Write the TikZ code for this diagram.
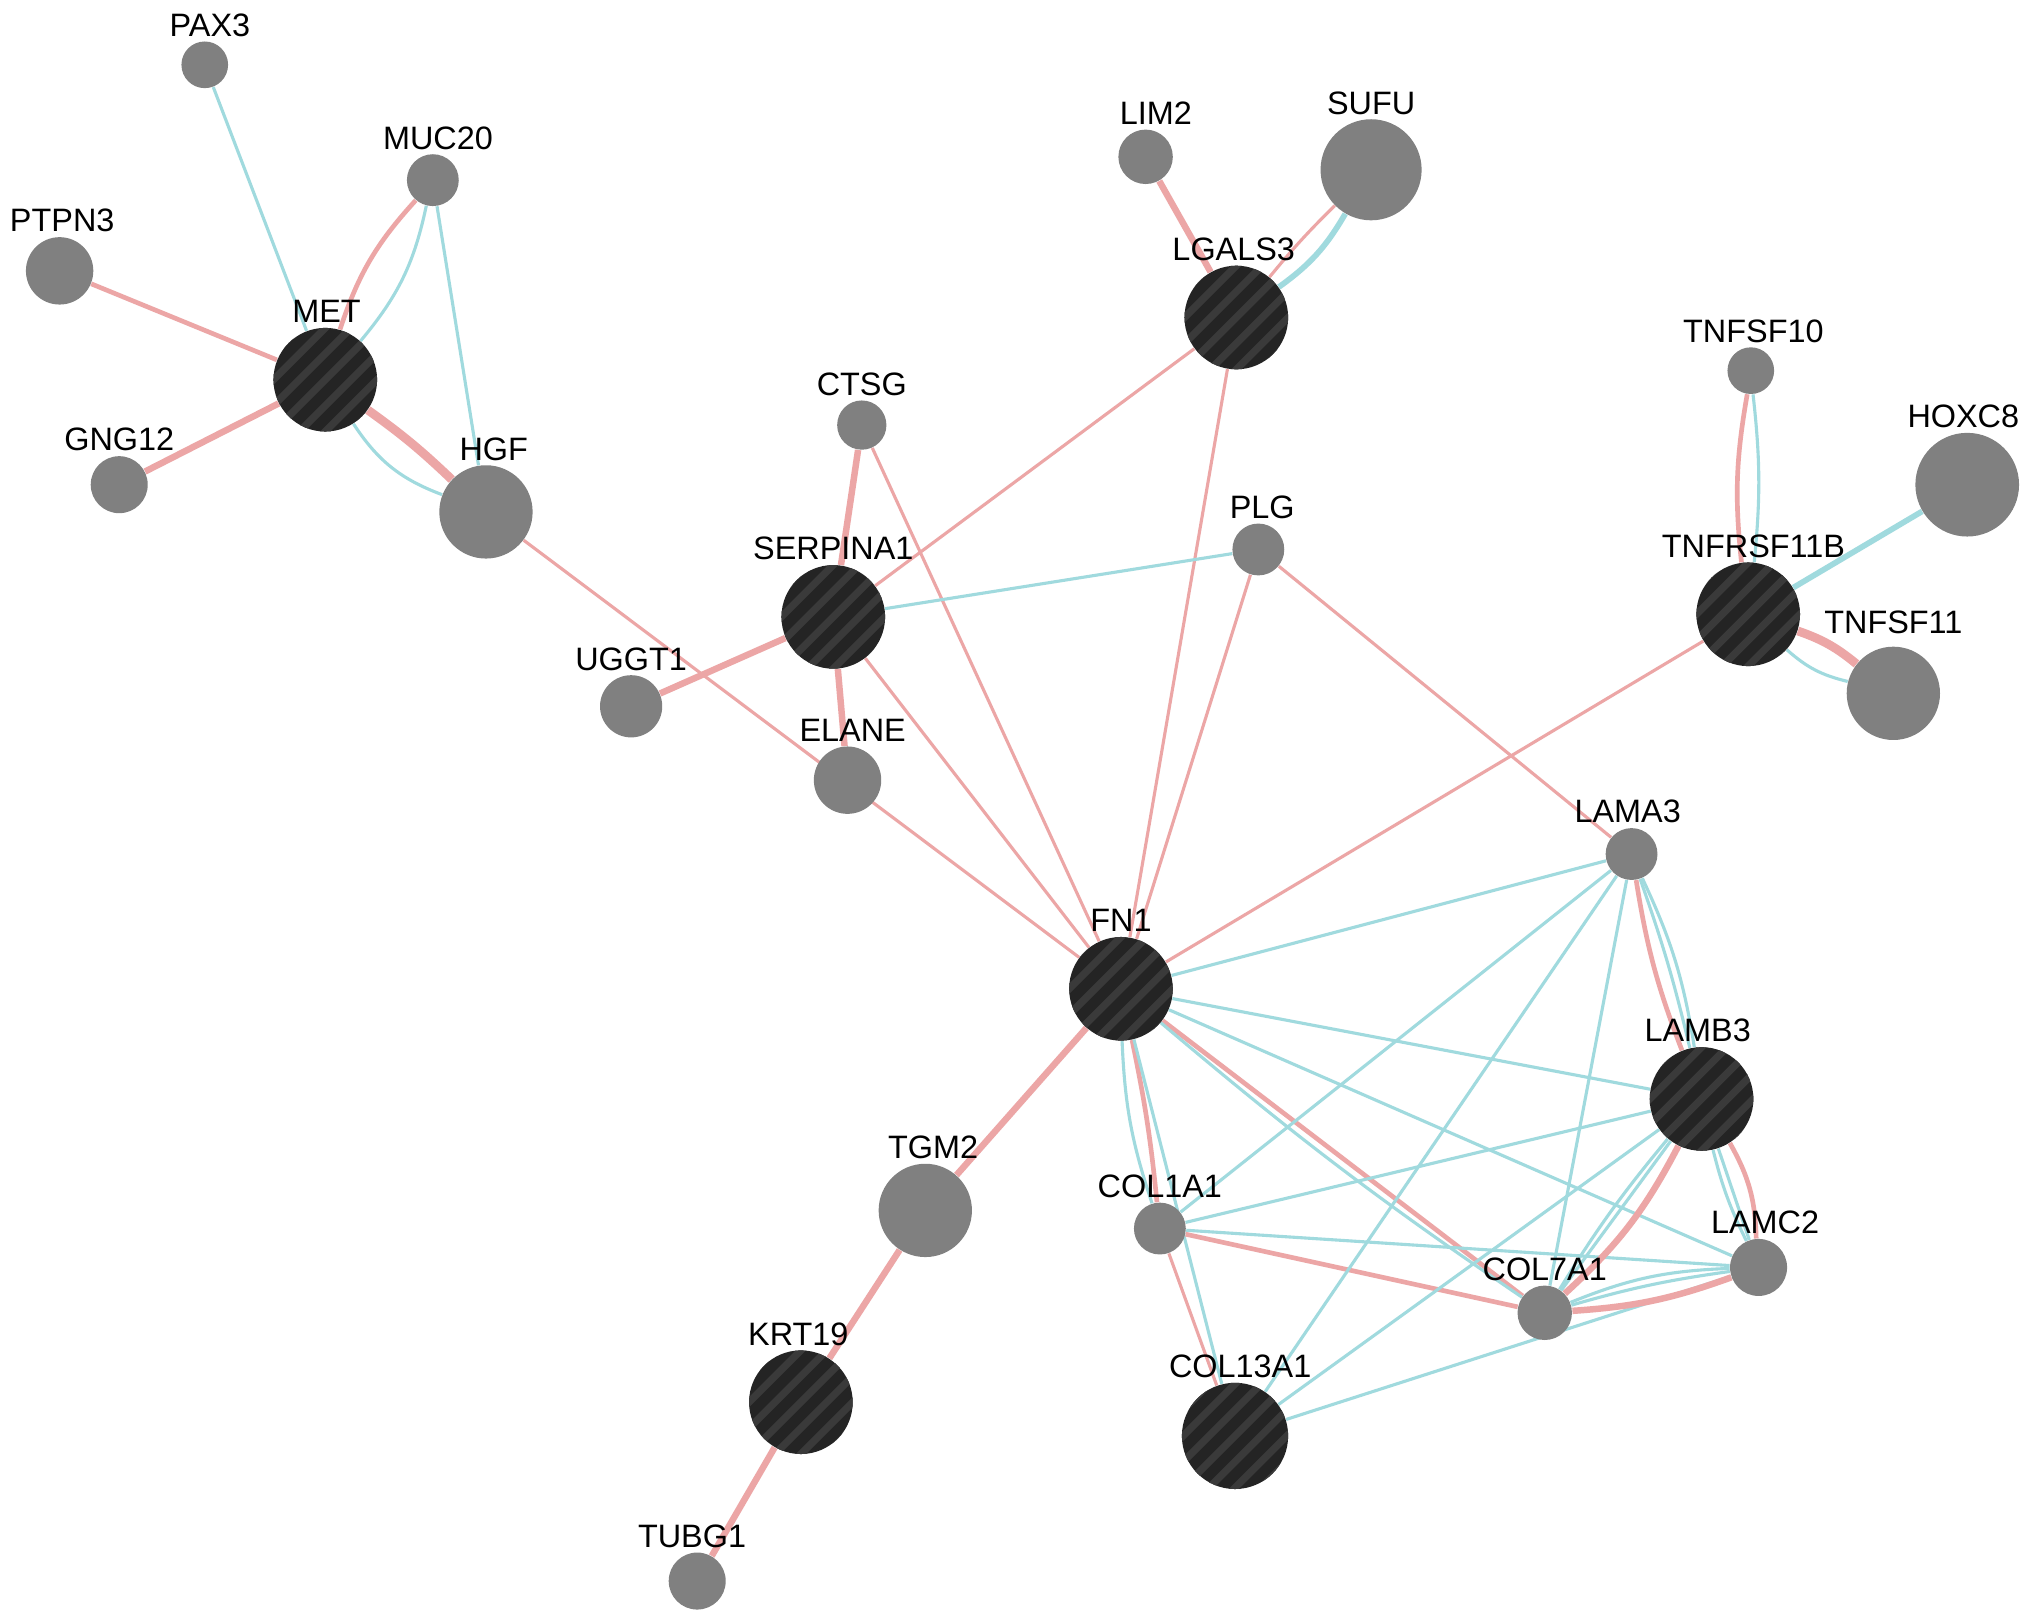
\documentclass[tikz,border=0pt]{standalone}
\usepackage{fontspec}
\setmainfont{Liberation Sans}
\usetikzlibrary{calc}
\definecolor{pinkc}{RGB}{236,166,166}
\definecolor{bluec}{RGB}{160,218,222}
\definecolor{grayn}{RGB}{128,128,128}
\definecolor{darkn}{RGB}{36,36,36}
\definecolor{stripec}{RGB}{58,58,58}
\pgfdeclarelayer{bg}
\pgfsetlayers{bg,main}
\tikzset{
  graynode/.style={circle, fill=grayn, inner sep=0pt},
  darknode/.style={circle, fill=darkn, inner sep=0pt},
  stripe/.style={draw=stripec, line width=2.8pt},
  lbl/.style={font=\fontsize{12.5}{14}\selectfont, text=black, inner sep=0pt},
  pk/.style={draw=pinkc, line width=1.2pt},
  pkM/.style={draw=pinkc, line width=1.8pt},
  pkT/.style={draw=pinkc, line width=2.5pt},
  pkX/.style={draw=pinkc, line width=3.4pt},
  bl/.style={draw=bluec, line width=1.2pt},
  blT/.style={draw=bluec, line width=2.2pt},
}
% name, x, y, radius, label, label offset
\newcommand\gnode[6]{%
  \node[graynode, minimum size=#4 pt] (#1) at (#2,#3) {};
  \node[lbl, anchor=base] (#1-l) at ($(#2,#3)+(0,-#4-4)+(#6)$) {#5};
}
\newcommand\dnode[6]{%
  \node[darknode, minimum size=#4 pt] (#1) at (#2,#3) {};
  \begin{scope}
    \clip (#2,#3) circle (#4);
    \foreach \k in {-5,...,5} \draw[stripe] ($(#2,#3)+(\k*20-70,70)$) -- ++(140,-140);
  \end{scope}
  \node[lbl, anchor=base] (#1-l) at ($(#2,#3)+(0,-#4-4)+(#6)$) {#5};
}
\begin{document}
\begin{tikzpicture}[x=0.5pt, y=-0.5pt]
\useasboundingbox (0,0) rectangle (1568,1244);
% nodes
\gnode{PAX3}{158}{50}{18}{PAX3}{4,0}
\gnode{MUC20}{334}{139}{20}{MUC20}{4,0}
\gnode{PTPN3}{46}{209}{26}{PTPN3}{2,0}
\dnode{MET}{251}{293}{40}{MET}{1,0}
\gnode{GNG12}{92}{374}{22}{GNG12}{0,0}
\gnode{HGF}{375}{395}{36}{HGF}{6,0}
\gnode{LIM2}{884}{121}{21}{LIM2}{8,0}
\gnode{SUFU}{1058}{131}{39}{SUFU}{0,0}
\dnode{LGALS3}{954}{245}{40}{LGALS3}{-2,0}
\gnode{CTSG}{665}{328}{19}{CTSG}{0,0}
\gnode{TNFSF10}{1351}{286}{18}{TNFSF10}{2,0}
\gnode{HOXC8}{1518}{374}{40}{HOXC8}{-3,0}
\gnode{PLG}{971}{424}{20}{PLG}{3,0}
\dnode{SERPINA1}{643}{476}{40}{SERPINA1}{0,0}
\dnode{TNFRSF11B}{1349}{474}{40}{TNFRSF11B}{4,0}
\gnode{TNFSF11}{1461}{535}{36}{TNFSF11}{0,-6}
\gnode{UGGT1}{487}{545}{24}{UGGT1}{0,0}
\gnode{ELANE}{654}{602}{26}{ELANE}{4,0}
\gnode{LAMA3}{1259}{659}{20}{LAMA3}{-3,0}
\dnode{FN1}{865}{763}{40}{FN1}{0,0}
\dnode{LAMB3}{1313}{848}{40}{LAMB3}{-3,0}
\gnode{TGM2}{714}{934}{36}{TGM2}{6,0}
\gnode{COL1A1}{895}{948}{20}{COL1A1}{0,0}
\gnode{LAMC2}{1357}{978}{22}{LAMC2}{5,0}
\gnode{COL7A1}{1192}{1013}{21}{COL7A1}{0,0}
\dnode{KRT19}{618}{1082}{40}{KRT19}{-2,0}
\dnode{COL13A1}{953}{1108}{41}{COL13A1}{4,0}
\gnode{TUBG1}{538}{1220}{22}{TUBG1}{-4,0}
% edges
\begin{pgfonlayer}{bg}
\fill[white] (0,0) rectangle (1568,1244);
% MET cluster
\draw[bl] (MET) -- (PAX3);
\draw[pkM] (MET) to[bend left=12] (MUC20);
\draw[bl] (MET) to[bend right=14] (MUC20);
\draw[bl] (MUC20) -- (HGF);
\draw[pkM] (MET) -- (PTPN3);
\draw[pkT] (MET) -- (GNG12);
\draw[pkX] (MET) to[bend left=4] (HGF);
\draw[bl] (MET) to[bend right=18] (HGF);
\draw[pk] (HGF) -- (FN1);
% LGALS3
\draw[pkT] (LGALS3) -- (LIM2);
\draw[pk] (LGALS3) to[bend left=3] (SUFU);
\draw[blT] (LGALS3) to[bend right=12] (SUFU);
\draw[pk] (LGALS3) -- (SERPINA1);
\draw[pk] (LGALS3) -- (FN1);
% SERPINA1
\draw[pkT] (SERPINA1) -- (CTSG);
\draw[pk] (CTSG) -- (FN1);
\draw[bl] (SERPINA1) -- (PLG);
\draw[pkT] (SERPINA1) -- (UGGT1);
\draw[pkT] (SERPINA1) -- (ELANE);
\draw[pk] (SERPINA1) -- (FN1);
\draw[pk] (PLG) -- (FN1);
\draw[pk] (PLG) -- (LAMA3);
% TNFRSF11B
\draw[pkM] (TNFRSF11B) to[bend left=8] (TNFSF10);
\draw[bl] (TNFRSF11B) to[bend right=6] (TNFSF10);
\draw[blT] (TNFRSF11B) -- (HOXC8);
\draw[pkX] (TNFRSF11B) to[bend left=10] (TNFSF11);
\draw[bl] (TNFRSF11B) to[bend right=14] (TNFSF11);
\draw[pk] (TNFRSF11B) -- (FN1);
% lower chain
\draw[pkT] (FN1) -- (TGM2);
\draw[pkT] (TGM2) -- (KRT19);
\draw[pkT] (KRT19) -- (TUBG1);
% FN1 cluster
\draw[bl] (FN1) -- (LAMA3);
\draw[bl] (FN1) -- (LAMB3);
\draw[bl] (FN1) -- (LAMC2);
\draw[pkM] (FN1) -- (COL7A1);
\draw[bl] (FN1) to[bend right=3] (COL7A1);
\draw[pkM] (FN1) to[bend left=3] (COL1A1);
\draw[bl] (FN1) to[bend right=8] (COL1A1);
\draw[bl] (FN1) -- (COL13A1);
\draw[pk] (COL1A1) -- (COL13A1);
\draw[bl] (COL1A1) -- (LAMA3);
\draw[bl] (COL1A1) -- (LAMB3);
\draw[bl] (COL1A1) -- (LAMC2);
\draw[pkM] (COL1A1) -- (COL7A1);
\draw[bl] (COL13A1) -- (LAMA3);
\draw[bl] (COL13A1) -- (LAMB3);
\draw[bl] (COL13A1) -- (LAMC2);
\draw[bl] (COL7A1) -- (LAMA3);
\draw[pkT] (COL7A1) to[bend right=10] (LAMB3);
\draw[bl] (COL7A1) to[bend left=4] (LAMB3);
\draw[bl] (COL7A1) -- (LAMB3);
\draw[pkT] (COL7A1) to[bend right=8] (LAMC2);
\draw[bl] (COL7A1) to[bend left=4] (LAMC2);
\draw[bl] (COL7A1) to[bend left=10] (LAMC2);
\draw[pkM] (LAMA3) to[bend right=6] (LAMB3);
\draw[bl] (LAMA3) to[bend left=3] (LAMB3);
\draw[bl] (LAMA3) to[bend left=8] (LAMB3);
\draw[pkM] (LAMB3) to[bend left=14] (LAMC2);
\draw[bl] (LAMB3) -- (LAMC2);
\draw[bl] (LAMB3) to[bend right=6] (LAMC2);
\end{pgfonlayer}
\end{tikzpicture}
\end{document}
